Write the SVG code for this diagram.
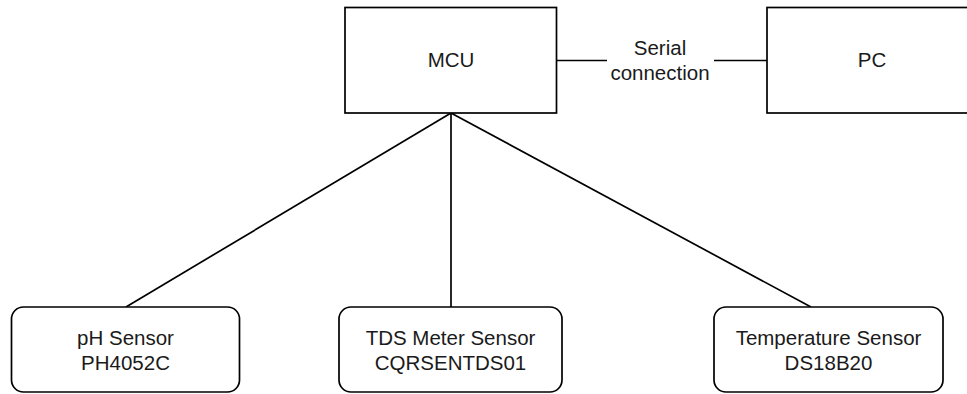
<svg xmlns="http://www.w3.org/2000/svg" width="967" height="394" viewBox="0 0 967 394">
<style>
.box{fill:#fff;stroke:#000;stroke-width:1.7}
.ln{stroke:#000;stroke-width:1.7;fill:none}
.t{font-family:"Liberation Sans",Arial,Helvetica,sans-serif;font-size:20.5px;fill:#1a1a1a;text-anchor:middle}
</style>
<rect width="967" height="394" fill="#fff"/>
<g id="connectors">
<line class="ln" x1="557" y1="60.5" x2="767" y2="60.5"/>
<rect x="607" y="36" width="107" height="50" fill="#fff"/>
<text class="t" x="660" y="55">Serial</text>
<text class="t" x="660" y="80">connection</text>
<line class="ln" x1="451" y1="113" x2="126" y2="307"/>
<line class="ln" x1="451" y1="113" x2="451" y2="307"/>
<line class="ln" x1="451" y1="113" x2="811" y2="307"/>
</g>
<g id="mcu">
<rect class="box" x="345" y="7.5" width="211.5" height="105.5"/>
<text class="t" x="451" y="67">MCU</text>
</g>
<g id="pc">
<rect class="box" x="767" y="7.5" width="215" height="105.5"/>
<text class="t" x="872" y="67">PC</text>
</g>
<g id="ph">
<rect class="box" x="11.5" y="307" width="228" height="85" rx="12"/>
<text class="t" x="125.5" y="345">pH Sensor</text>
<text class="t" x="125.5" y="370">PH4052C</text>
</g>
<g id="tds">
<rect class="box" x="339" y="307" width="223" height="85" rx="12"/>
<text class="t" x="450.5" y="345">TDS Meter Sensor</text>
<text class="t" x="450.5" y="370">CQRSENTDS01</text>
</g>
<g id="temp">
<rect class="box" x="714" y="307" width="229" height="85" rx="12"/>
<text class="t" x="828.5" y="345">Temperature Sensor</text>
<text class="t" x="828.5" y="370">DS18B20</text>
</g>
</svg>
